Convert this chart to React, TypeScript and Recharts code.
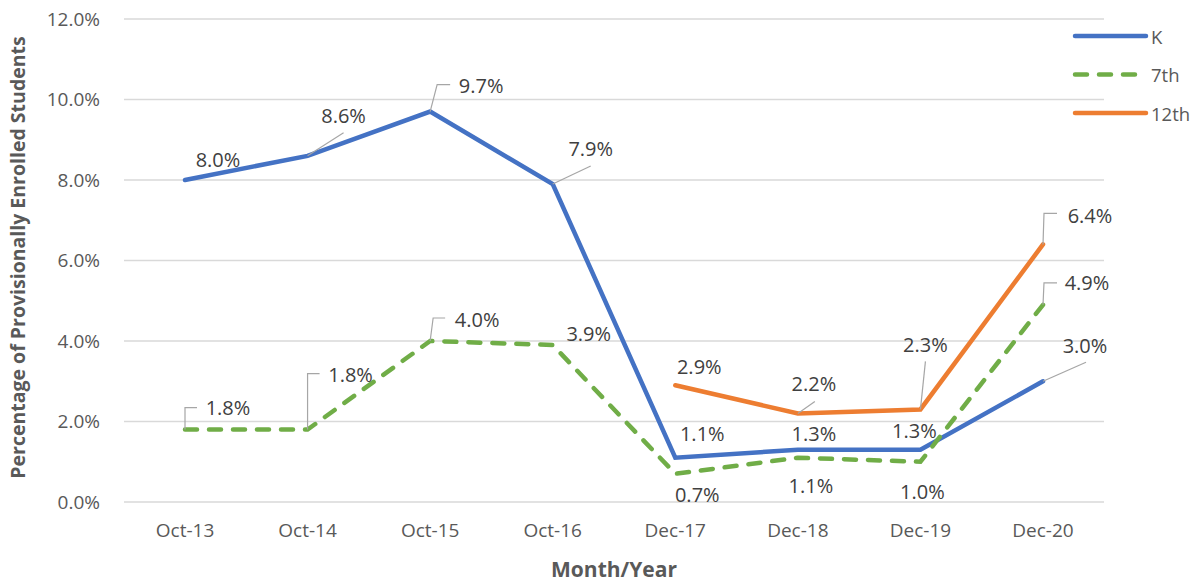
import { LineChart, Line, XAxis, YAxis, CartesianGrid } from "recharts";

const months = ["Oct-13", "Oct-14", "Oct-15", "Oct-16", "Dec-17", "Dec-18", "Dec-19", "Dec-20"];
const kValues = [8.0, 8.6, 9.7, 7.9, 1.1, 1.3, 1.3, 3.0];
const seventhValues = [1.8, 1.8, 4.0, 3.9, 0.7, 1.1, 1.0, 4.9];
const twelfthValues = [null, null, null, null, 2.9, 2.2, 2.3, 6.4];
const yTicks = [0, 2, 4, 6, 8, 10, 12];

// label placement (text centre relative to the point) and leader lines [endX, endY, stubX]
type Leader = [number, number, number | null] | null;
const kLabelPos = [[33, -21], [36, -40], [51, -26], [38, -36], [27, -24], [16, -16], [-6, -19], [42, -36]];
const kLeaders: Leader[] = [null, [36, -23, null], [7, -27, 20], [38, -18, null], null, null, null, [43, -19, null]];
const seventhLabelPos = [[43, -22], [43, -55], [47, -22], [36, -12], [22, 21], [13, 28], [2, 30], [44, -22]];
const seventhLeaders: Leader[] = [[0, -22, 12], [0, -56, 12], [3, -23, 15], null, null, null, null, [1, -22, 14]];
const twelfthLabelPos = [[0, 0], [0, 0], [0, 0], [0, 0], [24, -19], [16, -30], [5, -65], [47, -29]];
const twelfthLeaders: Leader[] = [null, null, null, null, null, [17, -12, null], [5, -48, null], [1, -31, 14]];

const data = months.map((m, i) => ({
  month: m,
  k: kValues[i],
  seventh: seventhValues[i],
  twelfth: twelfthValues[i],
}));

const FONT = "'Open Sans', sans-serif";
const fmt = (v: number) => `${v.toFixed(1)}%`;

function makeLabel(pos: number[][], leaders: Leader[]) {
  return (props: any) => {
    const { x, y, value, index } = props;
    if (value == null || x == null || y == null) return null;
    const [dx, dy] = pos[index];
    const ld = leaders[index];
    let pts = "";
    if (ld) {
      pts = `${x},${y} ${x + ld[0]},${y + ld[1]}`;
      if (ld[2] != null) pts += ` ${x + ld[2]},${y + ld[1]}`;
    }
    return (
      <g key={`lbl-${index}`}>
        {ld && <polyline points={pts} fill="none" stroke="#a6a6a6" strokeWidth={1.2} />}
        <text
          x={x + dx}
          y={y + dy}
          textAnchor="middle"
          dominantBaseline="central"
          fill="#404040"
          fontSize={20}
          fontFamily={FONT}
        >
          {fmt(value)}
        </text>
      </g>
    );
  };
}

const legendItems = [
  { name: "K", color: "#4472C4", dash: undefined },
  { name: "7th", color: "#70AD47", dash: "12 12" },
  { name: "12th", color: "#ED7D31", dash: undefined },
];

function ChartLegend() {
  return (
    <svg width={133} height={100} style={{ position: "absolute", left: 1070, top: 24 }}>
      {legendItems.map((it, i) => (
        <g key={it.name}>
          <line
            x1={5}
            x2={76}
            y1={12 + i * 38.5}
            y2={12 + i * 38.5}
            stroke={it.color}
            strokeWidth={4.5}
            strokeLinecap="round"
            strokeDasharray={it.dash}
          />
          <text
            x={81}
            y={12 + i * 38.5}
            dominantBaseline="central"
            fill="#595959"
            fontSize={18.5}
            fontFamily={FONT}
          >
            {it.name}
          </text>
        </g>
      ))}
    </svg>
  );
}

export default function App() {
  return (
    <div style={{ position: "absolute", left: 0, top: 0, width: 1203, height: 583, background: "#fff" }}>
      <LineChart width={1203} height={583} data={data} margin={{ top: 19, right: 99, left: 0, bottom: 0 }}>
        <CartesianGrid vertical={false} stroke="#d9d9d9" strokeWidth={1.3} />
        <XAxis
          dataKey="month"
          height={81}
          padding={{ left: 61, right: 61 }}
          axisLine={false}
          tickLine={false}
          tickSize={0}
          tickMargin={22}
          tick={{ fill: "#595959", fontSize: 19, fontFamily: FONT }}
          label={{
            content: (p: any) => {
              const vb = p.viewBox;
              return (
                <text
                  x={614}
                  y={vb.y + 67}
                  textAnchor="middle"
                  dominantBaseline="central"
                  fill="#595959"
                  fontSize={21}
                  fontWeight="bold"
                  fontFamily={FONT}
                >
                  Month/Year
                </text>
              );
            },
          }}
        />
        <YAxis
          width={124}
          domain={[0, 12]}
          ticks={yTicks}
          interval={0}
          axisLine={false}
          tickLine={false}
          tickSize={0}
          tickMargin={24}
          tickFormatter={(v: number) => fmt(v)}
          tick={{ fill: "#595959", fontSize: 19, fontFamily: FONT }}
          label={{
            content: (p: any) => {
              const vb = p.viewBox;
              const cx = 17;
              const cy = vb.y + vb.height / 2 - 3;
              return (
                <text
                  x={cx}
                  y={cy}
                  transform={`rotate(-90 ${cx} ${cy})`}
                  textAnchor="middle"
                  dominantBaseline="central"
                  fill="#595959"
                  fontSize={19.5}
                  fontWeight="bold"
                  fontFamily={FONT}
                >
                  Percentage of Provisionally Enrolled Students
                </text>
              );
            },
          }}
        />
        <Line
          dataKey="k"
          name="K"
          stroke="#4472C4"
          strokeWidth={4.5}
          strokeLinecap="round"
          dot={false}
          activeDot={false}
          isAnimationActive={false}
          label={makeLabel(kLabelPos, kLeaders)}
        />
        <Line
          dataKey="seventh"
          name="7th"
          stroke="#70AD47"
          strokeWidth={4.5}
          strokeLinecap="round"
          strokeDasharray="12 12"
          dot={false}
          activeDot={false}
          isAnimationActive={false}
          label={makeLabel(seventhLabelPos, seventhLeaders)}
        />
        <Line
          dataKey="twelfth"
          name="12th"
          stroke="#ED7D31"
          strokeWidth={4.5}
          strokeLinecap="round"
          dot={false}
          activeDot={false}
          isAnimationActive={false}
          label={makeLabel(twelfthLabelPos, twelfthLeaders)}
        />
      </LineChart>
      <ChartLegend />
    </div>
  );
}
